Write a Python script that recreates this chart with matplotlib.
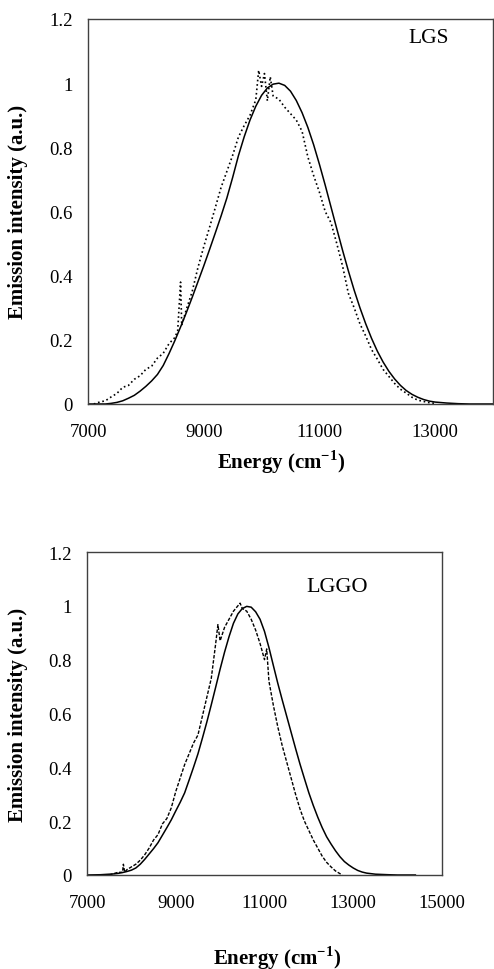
import matplotlib.pyplot as plt
from matplotlib.ticker import FuncFormatter

# LGS: fitted band (solid) and measured emission (dotted)
lgs_fit_e = [7000, 7300, 7400, 7500, 7600, 7700, 7800, 7900, 8000, 8100,
             8200, 8300, 8400, 8500, 8600, 8700, 8800, 8900, 9000, 9100,
             9200, 9300, 9400, 9500, 9600, 9700, 9800, 9900, 10000, 10100,
             10200, 10300, 10400, 10500, 10600, 10700, 10800, 10900, 11000, 11100,
             11200, 11300, 11400, 11500, 11600, 11700, 11800, 11900, 12000, 12100,
             12200, 12300, 12400, 12500, 12600, 12700, 12800, 12900, 13000, 13200,
             13400, 13600, 14000]
lgs_fit_i = [0.0, 0.0, 0.002, 0.005, 0.010, 0.018, 0.027, 0.040, 0.055, 0.072,
             0.092, 0.120, 0.157, 0.197, 0.240, 0.285, 0.332, 0.381, 0.430, 0.481,
             0.533, 0.586, 0.642, 0.706, 0.774, 0.833, 0.885, 0.928, 0.962, 0.985,
             0.997, 1.0, 0.993, 0.975, 0.946, 0.908, 0.862, 0.808, 0.747, 0.682,
             0.614, 0.546, 0.479, 0.415, 0.355, 0.300, 0.250, 0.205, 0.165, 0.131,
             0.102, 0.078, 0.058, 0.042, 0.030, 0.021, 0.014, 0.009, 0.006, 0.003,
             0.001, 0.0, 0.0]

lgs_exp_e = [7100, 7200, 7300, 7400, 7500, 7600, 7700, 7800, 7900, 8000,
             8100, 8200, 8300, 8400, 8500, 8550, 8600, 8620, 8700, 8800,
             8900, 9000, 9100, 9200, 9300, 9400, 9500, 9600, 9700, 9800,
             9900, 9950, 10000, 10050, 10100, 10150, 10200, 10300, 10400, 10500,
             10600, 10700, 10800, 10900, 11000, 11100, 11200, 11300, 11400, 11500,
             11600, 11700, 11800, 11900, 12000, 12100, 12200, 12300, 12400, 12500,
             12600, 12700, 12800, 12900, 13000]
lgs_exp_i = [0.0, 0.006, 0.01, 0.022, 0.033, 0.052, 0.058, 0.077, 0.088, 0.108,
             0.118, 0.143, 0.158, 0.188, 0.207, 0.228, 0.38, 0.245, 0.295, 0.35,
             0.425, 0.49, 0.55, 0.612, 0.675, 0.725, 0.775, 0.832, 0.868, 0.9,
             0.948, 1.04, 0.99, 1.03, 0.945, 1.02, 0.96, 0.95, 0.925, 0.905,
             0.885, 0.85, 0.77, 0.712, 0.66, 0.6, 0.565, 0.5, 0.43, 0.345,
             0.3, 0.25, 0.212, 0.17, 0.14, 0.108, 0.086, 0.064, 0.046, 0.034,
             0.021, 0.012, 0.008, 0.004, 0.002]

# LGGO: fitted band (solid) and measured emission (dashed)
lggo_fit_e = [7000, 7300, 7500, 7600, 7700, 7800, 7900, 8000, 8100, 8200,
              8300, 8400, 8500, 8600, 8700, 8800, 8900, 9000, 9100, 9200,
              9300, 9400, 9500, 9600, 9700, 9800, 9900, 10000, 10100, 10200,
              10300, 10400, 10500, 10600, 10700, 10800, 10900, 11000, 11100, 11200,
              11300, 11400, 11500, 11600, 11700, 11800, 11900, 12000, 12100, 12200,
              12300, 12400, 12500, 12600, 12700, 12800, 12900, 13000, 13100, 13200,
              13300, 13500, 13800, 14000, 14400]
lggo_fit_i = [0.0, 0.001, 0.003, 0.004, 0.006, 0.009, 0.013, 0.018, 0.026, 0.040,
              0.058, 0.078, 0.098, 0.120, 0.148, 0.176, 0.205, 0.238, 0.270, 0.305,
              0.352, 0.400, 0.450, 0.508, 0.568, 0.632, 0.698, 0.765, 0.828, 0.885,
              0.935, 0.970, 0.990, 0.998, 0.995, 0.978, 0.950, 0.905, 0.845, 0.778,
              0.712, 0.650, 0.590, 0.530, 0.470, 0.412, 0.358, 0.305, 0.258, 0.215,
              0.176, 0.142, 0.115, 0.090, 0.068, 0.050, 0.037, 0.026, 0.017, 0.011,
              0.007, 0.003, 0.001, 0.0, 0.0]

lggo_exp_e = [7500, 7600, 7700, 7800, 7820, 7850, 7900, 8000, 8100, 8200,
              8300, 8400, 8500, 8600, 8700, 8750, 8800, 8900, 9000, 9100,
              9200, 9300, 9400, 9500, 9600, 9700, 9800, 9900, 9950, 10000,
              10100, 10200, 10300, 10400, 10450, 10500, 10600, 10700, 10800, 10900,
              11000, 11050, 11100, 11200, 11300, 11400, 11500, 11600, 11700, 11800,
              11900, 12000, 12100, 12200, 12300, 12400, 12500, 12600, 12700, 12750]
lggo_exp_i = [0.0, 0.005, 0.01, 0.01, 0.04, 0.01, 0.02, 0.03, 0.04, 0.055,
              0.075, 0.1, 0.13, 0.15, 0.19, 0.2, 0.21, 0.25, 0.31, 0.36,
              0.41, 0.45, 0.49, 0.52, 0.59, 0.66, 0.73, 0.86, 0.93, 0.87,
              0.92, 0.95, 0.98, 1.0, 1.01, 0.99, 0.98, 0.95, 0.91, 0.86,
              0.8, 0.84, 0.72, 0.63, 0.55, 0.48, 0.42, 0.36, 0.3, 0.245,
              0.2, 0.165, 0.13, 0.1, 0.07, 0.047, 0.03, 0.015, 0.005, 0.0]

y_ticks = [0, 0.2, 0.4, 0.6, 0.8, 1.0, 1.2]

plt.rcParams["font.family"] = ["Liberation Serif", "DejaVu Serif"]
plt.rcParams["mathtext.fontset"] = "custom"
plt.rcParams["mathtext.rm"] = "Liberation Serif:bold"
plt.rcParams["mathtext.bf"] = "Liberation Serif:bold"

fig = plt.figure(figsize=(4.94, 9.70), dpi=100)
ax1 = fig.add_axes([88 / 494, 565 / 970, 405 / 494, 385 / 970])
ax2 = fig.add_axes([87 / 494, 94 / 970, 355 / 494, 323 / 970])

fmt = FuncFormatter(lambda v, pos: f"{v:g}")


def style(ax, xlim, xticks):
    ax.set_xlim(*xlim)
    ax.set_ylim(0, 1.2)
    ax.set_xticks(xticks)
    ax.set_yticks(y_ticks)
    ax.yaxis.set_major_formatter(fmt)
    ax.tick_params(length=0, labelsize=13.5)
    ax.tick_params(axis="x", pad=14)
    ax.tick_params(axis="y", pad=11)
    for sp in ax.spines.values():
        sp.set_color("#404040")
        sp.set_linewidth(1.0)
    ax.set_ylabel("Emission intensity (a.u.)", fontsize=15, fontweight="bold")
    ax.yaxis.set_label_coords(18 / 494, 0.5, transform=fig.transFigure)
    ax.yaxis.label.set_va("center")


ax1.plot(lgs_fit_e, lgs_fit_i, color="black", lw=1.1)
ax1.plot(lgs_exp_e, lgs_exp_i, color="black", lw=1.2, linestyle=":")
style(ax1, (7000, 14000), [7000, 9000, 11000, 13000])
ax1.yaxis.set_label_coords(18 / 494, 1 - 212 / 970, transform=fig.transFigure)
ax1.text(0.84, 0.953, "LGS", transform=ax1.transAxes, fontsize=15.5,
         ha="center", va="center")

ax2.plot(lggo_fit_e, lggo_fit_i, color="black", lw=1.1)
ax2.plot(lggo_exp_e, lggo_exp_i, color="black", lw=1.0, linestyle=(0, (2.5, 1.2)))
style(ax2, (7000, 15000), [7000, 9000, 11000, 13000, 15000])
ax2.yaxis.set_label_coords(18 / 494, 1 - 715 / 970, transform=fig.transFigure)
ax2.text(0.704, 0.892, "LGGO", transform=ax2.transAxes, fontsize=16,
         ha="center", va="center")

fig.text(281 / 494, 1 - 462 / 970, "Energy (cm$^{-1}$)", fontsize=15,
         fontweight="bold", ha="center", va="center")
fig.text(277 / 494, 1 - 958 / 970, "Energy (cm$^{-1}$)", fontsize=15,
         fontweight="bold", ha="center", va="center")

fig.savefig("out.png", dpi=100)
